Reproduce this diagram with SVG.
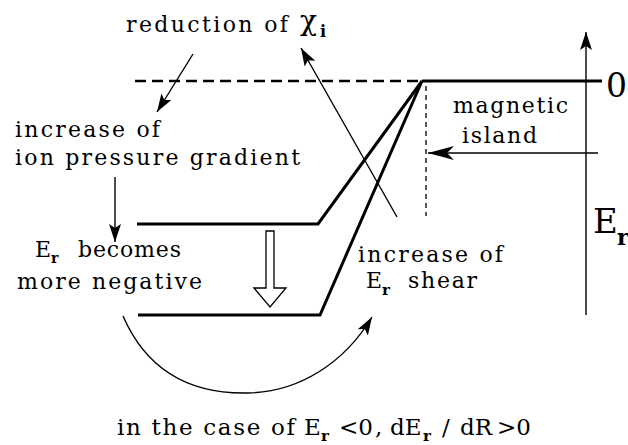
<svg xmlns="http://www.w3.org/2000/svg" width="628" height="445" viewBox="0 0 628 445">
<style>
text{font-family:"DejaVu Serif","Liberation Serif",serif;fill:#000}
.t{font-size:22px}
.c{font-size:23px}
.sub{font-weight:bold}
.thick{fill:none;stroke:#000;stroke-width:3}
.thin{fill:none;stroke:#000;stroke-width:1.4}
</style>
<defs>
<marker id="ah" markerUnits="userSpaceOnUse" markerWidth="18" markerHeight="12" refX="18" refY="6" orient="auto" viewBox="0 0 18 12">
<path d="M0,0 L18,6 L0,12 L4,6 z" fill="#000"/>
</marker>
<marker id="ahl" markerUnits="userSpaceOnUse" markerWidth="26" markerHeight="14" refX="26" refY="7" orient="auto" viewBox="0 0 26 14">
<path d="M0,0 L26,7 L0,14 L7,7 z" fill="#000"/>
</marker>
</defs>

<g id="connectors">
<line x1="135" y1="81" x2="420" y2="81" stroke="#000" stroke-width="2.5" stroke-dasharray="11 6"/>
<line x1="426" y1="86" x2="426" y2="216" stroke="#000" stroke-width="1.3" stroke-dasharray="5 4"/>
<path class="thick" d="M422,81 L602,81"/>
<path class="thick" d="M137,224 L318,224 L422,81"/>
<path class="thick" d="M138,315 L320,315 L422,81"/>
<line class="thin" x1="586" y1="315" x2="586" y2="32" marker-end="url(#ah)"/>
<line class="thin" x1="598" y1="153" x2="428" y2="153" marker-end="url(#ahl)"/>
<line class="thin" x1="193" y1="54" x2="157" y2="112" marker-end="url(#ah)"/>
<line class="thin" x1="397" y1="217" x2="301" y2="48" marker-end="url(#ah)"/>
<line class="thin" x1="115" y1="177" x2="115" y2="242" marker-end="url(#ah)"/>
<path class="thin" d="M123,316 C150,378 200,394 248,393 C300,392 345,362 372,317" marker-end="url(#ah)"/>
<path d="M266,231 L274,231 L274,288 L286,288 L270,307 L254,288 L266,288 z" fill="#fff" stroke="#000" stroke-width="1.3"/>
</g>

<g id="reduction">
<text class="t" x="126" y="32" textLength="162" lengthAdjust="spacing">reduction of</text>
<text x="300" y="30" font-size="28">χ</text>
<text class="sub" x="320" y="37" font-size="16">i</text>
</g>

<g id="ion-pressure">
<text class="t" x="15" y="137" textLength="145" lengthAdjust="spacing">increase of</text>
<text class="t" x="15" y="165" textLength="285" lengthAdjust="spacing">ion pressure gradient</text>
</g>

<g id="er-negative">
<text class="t" x="35" y="257">E</text>
<text class="sub" x="51" y="263" font-size="14">r</text>
<text class="t" x="78" y="257" textLength="103" lengthAdjust="spacing">becomes</text>
<text class="t" x="17" y="289" textLength="185" lengthAdjust="spacing">more negative</text>
</g>

<g id="er-shear">
<text class="t" x="358" y="262" textLength="145" lengthAdjust="spacing">increase of</text>
<text class="t" x="366" y="288">E</text>
<text class="sub" x="382" y="295" font-size="15">r</text>
<text class="t" x="408" y="288" textLength="69" lengthAdjust="spacing">shear</text>
</g>

<g id="island">
<text class="t" x="453" y="113" textLength="115" lengthAdjust="spacing">magnetic</text>
<text class="t" x="462" y="143" textLength="75" lengthAdjust="spacing">island</text>
</g>

<g id="axis">
<text x="606" y="97" font-size="33">0</text>
<text x="593" y="233" font-size="34">E</text>
<text class="sub" x="617" y="245" font-size="22">r</text>
</g>

<g id="caption">
<text class="c" x="117" y="435" textLength="178" lengthAdjust="spacing">in the case of</text>
<text class="c" x="304" y="435">E</text>
<text class="sub" x="321" y="441" font-size="15">r</text>
<text class="c" x="339" y="435">&lt;0</text>
<text class="c" x="375" y="435">,</text>
<text class="c" x="390" y="435">dE</text>
<text class="sub" x="423" y="441" font-size="15">r</text>
<text class="c" x="442" y="435">/</text>
<text class="c" x="460" y="435">dR</text>
<text class="c" x="497" y="435">&gt;0</text>
</g>
</svg>
